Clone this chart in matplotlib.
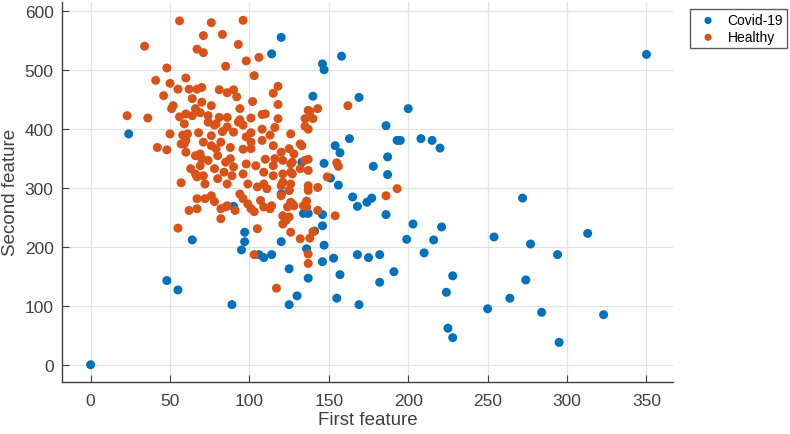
import numpy as np
import matplotlib
matplotlib.use("Agg")
import matplotlib.pyplot as plt

plt.rcParams['font.family'] = ['Liberation Sans', 'DejaVu Sans']

# Covid-19 samples (first feature, second feature)
covidX = [0, 24, 48, 55, 64, 89, 90, 95, 97, 97, 106, 109, 114, 120, 125, 130, 125,
	136, 137, 134, 137, 146, 120, 114, 133, 120, 125, 158, 146, 147, 140, 169,
	200, 186, 163, 193, 195, 208, 215, 220, 154, 157, 187, 147, 178, 187, 151,
	156, 165, 168, 174, 177, 272, 186, 146, 141, 147, 153, 168, 175, 182, 146,
	157, 191, 182, 155, 169, 203, 199, 221, 216, 210, 228, 224, 225, 228, 250,
	254, 264, 274, 277, 350, 313, 294, 284, 323, 295]
covidY = [0, 392, 143, 127, 212, 102, 269, 195, 209, 225, 187, 182, 187, 209, 163, 117, 102,
	197, 147, 257, 257, 255, 556, 528, 344, 290, 296, 524, 511, 501, 456, 454,
	435, 406, 384, 381, 381, 384, 381, 368, 372, 360, 353, 342, 337, 323, 317,
	305, 285, 269, 276, 283, 283, 255, 236, 227, 203, 181, 187, 182, 187, 175,
	153, 158, 140, 113, 102, 239, 213, 234, 212, 190, 151, 123, 62, 46, 95,
	217, 113, 144, 205, 527, 223, 187, 89, 85, 38]

# Healthy samples
healthyX = [56, 76, 96, 71, 83, 93, 34, 67, 71, 98, 106, 85, 48, 103, 41, 60, 50, 55,
	62, 67, 70, 81, 90, 86, 92, 118, 115, 46, 64, 70, 102, 76, 52, 51, 66, 94,
	118, 137, 23, 36, 56, 60, 64, 74, 81, 86, 93, 101, 108, 118, 135, 59, 78,
	86, 96, 108, 116, 137, 50, 58, 68, 76, 83, 90, 98, 101, 113, 126, 132, 42,
	48, 60, 60, 71, 76, 82, 88, 96, 101, 108, 115, 120, 125, 69, 74, 80, 85,
	90, 98, 104, 110, 115, 121, 126, 137, 63, 69, 78, 84, 67, 71, 80, 89, 96,
	109, 115, 126, 132, 57, 86, 99, 105, 111, 120, 125, 137, 67, 72, 78, 62,
	67, 82, 86, 99, 103, 107, 113, 121, 128,
	162, 138, 143, 135, 133, 128, 127, 135, 155, 156, 121, 127, 137, 149, 121,
	137, 143, 193, 120, 126, 124, 136, 143, 154, 186,
	76, 85, 82, 96, 101, 109, 114, 127, 125, 121, 136, 105,
	55, 91, 103, 117, 126, 132, 123, 137, 137, 134, 138, 140,
	61, 59, 57, 66, 66, 70, 69, 74, 94, 140,
	79, 88, 101, 109, 94, 72, 116, 126, 79, 110]
healthyY = [584, 581, 585, 559, 561, 544, 541, 536, 530, 516, 522, 507, 504, 491, 483, 487, 478, 468,
	468, 468, 471, 467, 467, 462, 455, 473, 461, 457, 452, 446, 447, 440, 440, 435, 435, 435,
	442, 432, 423, 419, 421, 426, 423, 412, 420, 420, 412, 419, 425, 418, 418, 409, 407,
	404, 407, 400, 403, 400, 392, 390, 394, 389, 396, 395, 387, 394, 390, 392, 375, 369,
	365, 381, 361, 378, 372, 378, 369, 366, 378, 381, 372, 361, 367, 358, 347, 355, 344,
	336, 341, 338, 349, 338, 347, 341, 349, 333, 338, 333, 327, 319, 321, 316, 321, 324,
	327, 321, 327, 333, 309, 307, 307, 302, 299, 304, 296, 304, 282, 282, 277, 262,
	265, 265, 270, 273, 260, 279, 265, 253, 270,
	440, 430, 435, 405, 372, 358, 344, 347, 343, 337, 324, 324, 330, 319, 310,
	296, 301, 299, 287, 276, 268, 268, 262, 253, 287,
	287, 268, 248, 282, 265, 268, 270, 273, 251, 239, 278, 231,
	232, 262, 187, 130, 225, 214, 245, 188, 172, 270, 215, 226,
	392, 375, 375, 355, 324, 350, 428, 423, 416, 418,
	367, 350, 367, 307, 290, 307, 350, 307, 409, 426]

blue = '#0072BD'
orange = '#D95319'
gridColor = '#e3e3e3'
axisColor = '#404040'

fig = plt.figure(figsize=(7.9, 4.35), dpi=100)
ax = fig.add_axes([0.0785, 0.12, 0.774, 0.873])

ax.scatter(covidX, covidY, s=42, color=blue, edgecolors='none', label='Covid-19', zorder=3)
ax.scatter(healthyX, healthyY, s=42, color=orange, edgecolors='none', label='Healthy', zorder=3)

ax.set_xlim(-18, 367)
ax.set_ylim(-29, 616)
ax.set_xticks(np.arange(0, 351, 50))
ax.set_yticks(np.arange(0, 601, 100))
ax.grid(True, color=gridColor, linewidth=0.9, zorder=0)
ax.set_axisbelow(True)

for side in ['top', 'right']:
	ax.spines[side].set_visible(False)
for side in ['left', 'bottom']:
	ax.spines[side].set_color(axisColor)
	ax.spines[side].set_linewidth(1.0)

ax.tick_params(direction='in', length=5, color=axisColor, labelcolor='#404040', labelsize=12.5)
ax.tick_params(axis='x', pad=8)
ax.tick_params(axis='y', pad=6)

ax.set_xlabel('First feature', fontsize=13.5, color='#404040', labelpad=2)
ax.set_ylabel('Second feature', fontsize=13.5, color='#404040', labelpad=4)

leg = fig.legend(loc='upper left', bbox_to_anchor=(0.8646, 0.993), fontsize=10,
	frameon=True, fancybox=False, edgecolor='#333333', handletextpad=0.4,
	borderpad=0.3, labelspacing=0.2, markerscale=0.8)
leg.get_frame().set_linewidth(1.0)

plt.savefig('out.png', dpi=100)
